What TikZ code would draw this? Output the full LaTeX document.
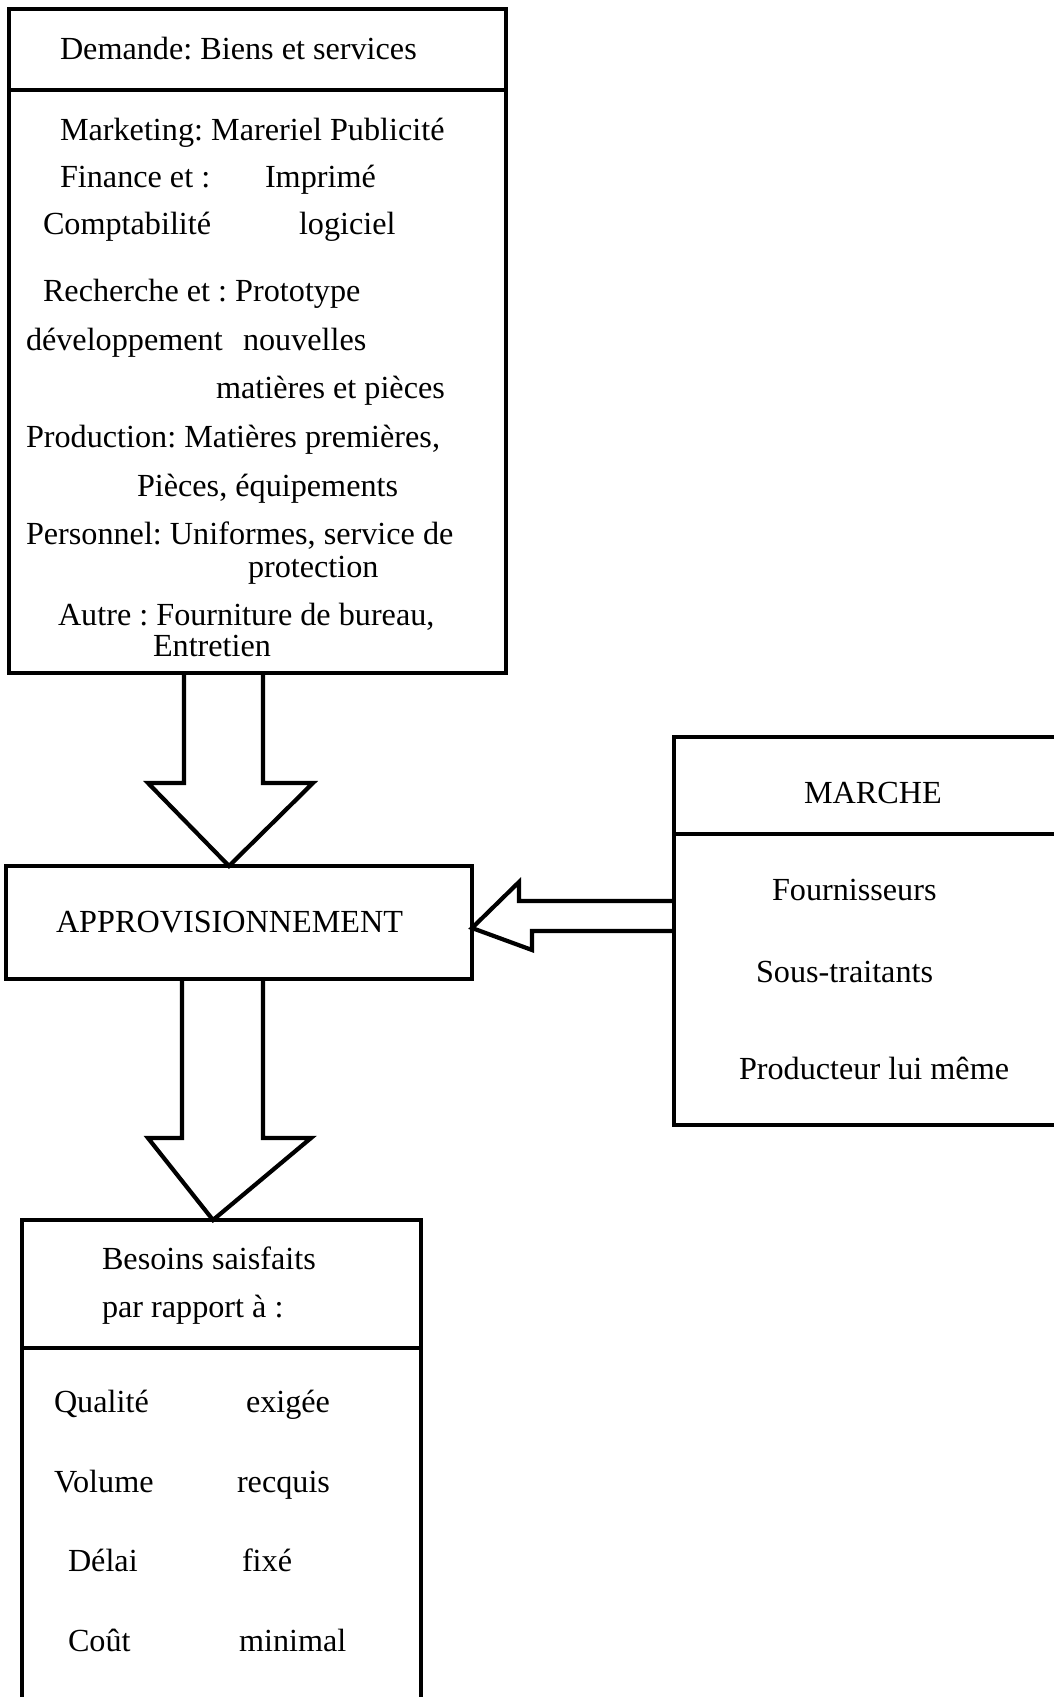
\documentclass[tikz,border=0pt]{standalone}
\usepackage{fontspec}
\setmainfont{Liberation Serif}
\frenchspacing
\begin{document}
\begin{tikzpicture}[x=1pt,y=-1pt,
  line width=4.5pt, line join=miter,
  lbl/.style={anchor=west, inner sep=0pt, outer sep=0pt, text height=0.7em, text depth=0.2em,
    yshift=-8.5pt, font=\fontsize{32.2}{38}\selectfont},
  boxline/.style={draw=black, line width=4.5pt},
  fat/.style={draw=black, line width=4.2pt, line join=miter}]
\useasboundingbox (0,0) rectangle (1054,1697);
\clip (0,0) rectangle (1054,1697);
% ---------------- boxes ----------------
\coordinate (tnw) at (9,9);
\coordinate (tse) at (506,673);
\draw[boxline] (tnw) rectangle (tse);
\coordinate (tdl) at (9,90);
\coordinate (tdr) at (506,90);
\draw[boxline] (tdl) -- (tdr);

\coordinate (anw) at (6,866);
\coordinate (ase) at (472,979);
\draw[boxline] (anw) rectangle (ase);

\coordinate (mnw) at (674,737);
\coordinate (mse) at (1070,1125);
\draw[boxline] (mnw) rectangle (mse);
\coordinate (mdl) at (674,834);
\coordinate (mdr) at (1070,834);
\draw[boxline] (mdl) -- (mdr);

\coordinate (bnw) at (22,1220);
\coordinate (bse) at (421,1720);
\draw[boxline] (bnw) rectangle (bse);
\coordinate (bdl) at (22,1348);
\coordinate (bdr) at (421,1348);
\draw[boxline] (bdl) -- (bdr);

% ---------------- block arrows ----------------
% top -> approvisionnement
\draw[fat] (184,0 |- tse) -- (184,783) -- (148,783) -- (229,0 |- anw) -- (313,783) -- (263,783) -- (263,0 |- tse);
% approvisionnement -> besoins
\draw[fat] (182,0 |- ase) -- (182,1138) -- (148,1138) -- (213,0 |- bnw) -- (311,1138) -- (263,1138) -- (263,0 |- ase);
% marche -> approvisionnement
\draw[fat] (mnw |- 0,901) -- (519,901) -- (519,882) -- (ase |- 0,928) -- (532,950) -- (532,931) -- (mnw |- 0,931);

% ---------------- texts: top box ----------------
\node[lbl] (dem) at (60,48) {Demande: Biens et services};
\node[lbl] (mk) at (60,129) {Marketing: Mareriel Publicité};
\node[lbl] (fin) at (60,176) {Finance et :};
\node[lbl] (imp) at (265,176) {Imprimé};
\node[lbl] (cpt) at (43,223) {Comptabilité};
\node[lbl] (logi) at (299,223) {logiciel};
\node[lbl] (rch) at (43,290) {Recherche et : Prototype};
\node[lbl] (dev) at (26,339) {développement};
\node[lbl] (nouv) at (243,339) {nouvelles};
\node[lbl] (mat) at (216,387) {matières et pièces};
\node[lbl] (prod) at (26,436) {Production: Matières premières,};
\node[lbl] (pie) at (137,485) {Pièces, équipements};
\node[lbl] (pers) at (26,533) {Personnel: Uniformes, service de};
\node[lbl] (prot) at (248,566) {protection};
\node[lbl] (aut) at (58,614) {Autre : Fourniture de bureau,};
\node[lbl] (ent) at (153,645) {Entretien};

% ---------------- approvisionnement ----------------
\node[lbl] (appro) at (56,921) {APPROVISIONNEMENT};

% ---------------- marche ----------------
\node[lbl] (marche) at (804,792) {MARCHE};
\node[lbl] (four) at (772,889) {Fournisseurs};
\node[lbl] (sous) at (756,971) {Sous-traitants};
\node[lbl] (prodlm) at (739,1068) {Producteur lui même};

% ---------------- besoins ----------------
\node[lbl] (bes) at (102,1258) {Besoins saisfaits};
\node[lbl] (par) at (102,1306) {par rapport à :};
\node[lbl] (qual) at (54,1401) {Qualité};
\node[lbl] (exi) at (246,1401) {exigée};
\node[lbl] (vol) at (54,1481) {Volume};
\node[lbl] (req) at (237,1481) {recquis};
\node[lbl] (del) at (68,1560) {Délai};
\node[lbl] (fix) at (242,1560) {fixé};
\node[lbl] (cout) at (68,1640) {Coût};
\node[lbl] (mini) at (239,1640) {minimal};
\end{tikzpicture}
\end{document}
